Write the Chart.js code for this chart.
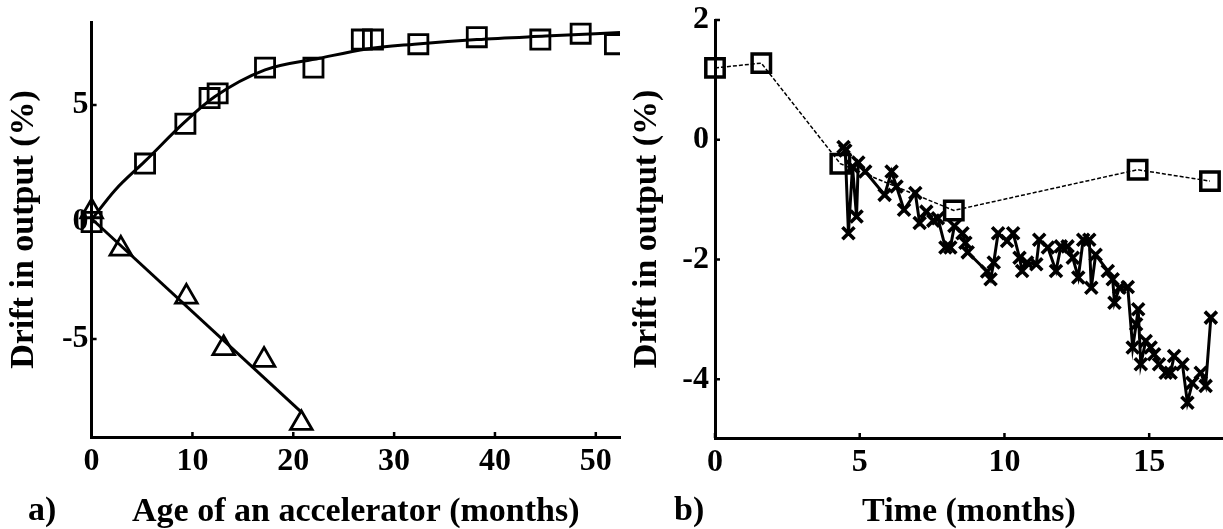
<!DOCTYPE html>
<html>
<head>
<meta charset="utf-8">
<title>Drift in output</title>
<script src="https://cdn.jsdelivr.net/npm/chart.js@4.4.1/dist/chart.umd.min.js"></script>
<style>
  html, body { margin: 0; padding: 0; background: #fff; }
  body { width: 1223px; height: 529px; position: relative; overflow: hidden; }
  canvas { position: absolute; top: 0; }
  #chartA { left: 0; }
  #chartB { left: 625px; }
  .tag {
    position: absolute; top: 492px; font: bold 34px "Liberation Serif", "Times New Roman", serif;
    line-height: 34px; color: #000;
  }
</style>
</head>
<body>
<canvas id="chartA" width="640" height="529"></canvas>
<canvas id="chartB" width="598" height="529"></canvas>
<div class="tag" style="left:28px">a)</div>
<div class="tag" style="left:674px">b)</div>

<script>
// panel a: age of an accelerator (months) vs drift (%)
const ageSquares = [0, 5.3, 9.3, 11.7, 12.5, 17.2, 22.0, 26.8, 27.9, 32.4, 38.2, 44.5, 48.5, 51.9];
const driftSquares = [0, 2.5, 4.2, 5.3, 5.5, 6.6, 6.6, 7.8, 7.8, 7.6, 7.9, 7.8, 8.05, 7.6];
const ageSquareFit = [0, 2.3, 5.3, 9.3, 12.2, 17.2, 22.6, 27.3, 32, 38.2, 45, 52.4];
const driftSquareFit = [0.1, 1.35, 2.6, 4.3, 5.35, 6.5, 7.0, 7.4, 7.6, 7.8, 7.95, 8.1];
const ageTriangles = [0, 2.9, 9.4, 13.1, 17.1, 20.8];
const driftTriangles = [0.45, -1.15, -3.2, -5.4, -5.9, -8.6];
const ageTriangleFit = [0, 20.8];
const driftTriangleFit = [0.14, -8.13];
const xTicksA = [0, 10, 20, 30, 40, 50];
const yTicksA = [-5, 0, 5];

// panel b: time (months) vs drift (%)
const timeSquares = [0, 1.6, 4.33, 8.25, 14.6, 17.1];
const driftSquaresB = [1.2, 1.28, -0.4, -1.18, -0.5, -0.69];
const timeCross = [4.44, 4.5, 4.61, 4.75, 4.89, 4.95, 5.19, 5.86, 6.1, 6.27, 6.53, 6.92, 7.07, 7.3,
  7.54, 7.7, 7.96, 8.13, 8.27, 8.55, 8.65, 8.73, 9.4, 9.52, 9.63, 9.78, 10.09, 10.3, 10.52,
  10.61, 10.78, 11.1, 11.2, 11.5, 11.78, 11.95, 12.18, 12.36, 12.55, 12.72, 12.93, 13.0, 13.15,
  13.57, 13.74, 13.8, 13.97, 14.26, 14.43, 14.55, 14.62, 14.71, 14.88, 15.05, 15.17, 15.34, 15.57,
  15.74, 15.86, 16.15, 16.32, 16.49, 16.78, 16.95, 17.13];
const driftCross = [-0.12, -0.18, -1.56, -0.45, -1.28, -0.38, -0.53, -0.92, -0.53, -0.78, -1.17, -0.89, -1.39, -1.2,
  -1.35, -1.31, -1.8, -1.8, -1.44, -1.56, -1.72, -1.88, -2.2, -2.33, -2.05, -1.56, -1.69, -1.56, -1.97,
  -2.19, -2.05, -2.08, -1.67, -1.8, -2.19, -1.78, -1.78, -1.97, -2.3, -1.67, -1.67, -2.47, -1.92,
  -2.19, -2.33, -2.72, -2.47, -2.46, -3.47, -3.08, -2.83, -3.75, -3.36, -3.47, -3.58, -3.75, -3.89,
  -3.89, -3.61, -3.75, -4.39, -4.06, -3.89, -4.11, -2.97];
const xTicksB = [0, 5, 10, 15];
const yTicksB = [-4, -2, 0, 2];

const FONT = '"Liberation Serif", "Times New Roman", serif';
const pts = (xs, ys) => xs.map((x, i) => ({ x, y: ys[i] }));

// small tick marks pointing into the plot
const innerTicks = {
  id: 'innerTicks',
  afterDraw(chart) {
    const { ctx, chartArea, scales } = chart;
    ctx.save();
    ctx.strokeStyle = '#000';
    ctx.lineWidth = 2.5;
    ctx.beginPath();
    scales.x.ticks.forEach(t => {
      const px = scales.x.getPixelForValue(t.value);
      ctx.moveTo(px, chartArea.bottom);
      ctx.lineTo(px, chartArea.bottom - 5);
    });
    scales.y.ticks.forEach(t => {
      const py = scales.y.getPixelForValue(t.value);
      ctx.moveTo(chartArea.left, py);
      ctx.lineTo(chartArea.left + 5, py);
    });
    ctx.stroke();
    ctx.restore();
  }
};

function axes(o) {
  const tickFont = { family: FONT, size: 32, weight: 'bold' };
  const titleFont = { family: FONT, size: 34, weight: 'bold', lineHeight: 1 };
  return {
    x: {
      type: 'linear', min: o.xMin, max: o.xMax,
      afterBuildTicks: s => { s.ticks = o.xTicks.map(v => ({ value: v })); },
      afterFit: s => { s.height = o.xHeight; s.paddingLeft = 0; s.paddingRight = 0; },
      grid: { display: true, drawOnChartArea: false, drawTicks: false },
      border: { display: true, color: '#000', width: 3 },
      ticks: { color: '#000', font: tickFont, padding: 6, maxRotation: 0 },
      title: { display: true, text: o.xTitle, color: '#000', font: titleFont, padding: { top: 0, bottom: 0 } }
    },
    y: {
      type: 'linear', min: o.yMin, max: o.yMax,
      afterBuildTicks: s => { s.ticks = o.yTicks.map(v => ({ value: v })); },
      afterFit: s => { s.width = o.yWidth; s.paddingTop = 0; s.paddingBottom = 0; },
      grid: { display: true, drawOnChartArea: false, drawTicks: false },
      border: { display: true, color: '#000', width: 3 },
      ticks: { color: '#000', font: tickFont, padding: o.yPad },
      title: { display: true, text: 'Drift in output (%)', color: '#000', font: titleFont, padding: { top: o.titlePad, bottom: 0 } }
    }
  };
}

const common = {
  responsive: false,
  animation: false,
  events: [],
  plugins: { legend: { display: false }, tooltip: { enabled: false } }
};

new Chart(document.getElementById('chartA'), {
  type: 'scatter',
  data: {
    datasets: [
      {
        data: pts(ageSquareFit, driftSquareFit), showLine: true, cubicInterpolationMode: 'monotone',
        borderColor: '#000', borderWidth: 3, pointRadius: 0, clip: false
      },
      {
        data: pts(ageTriangleFit, driftTriangleFit), showLine: true,
        borderColor: '#000', borderWidth: 3, pointRadius: 0, clip: false
      },
      {
        data: pts(ageSquares, driftSquares), pointStyle: 'rect', pointRadius: 13.5,
        borderColor: '#000', backgroundColor: 'rgba(0,0,0,0)', borderWidth: 2.8,
        clip: { left: false, top: false, right: 0, bottom: false }
      },
      {
        data: pts(ageTriangles, driftTriangles), pointStyle: 'triangle', pointRadius: 12.5,
        borderColor: '#000', backgroundColor: 'rgba(0,0,0,0)', borderWidth: 2.8, clip: false
      }
    ]
  },
  options: Object.assign({}, common, {
    layout: { autoPadding: false, padding: { left: 0, right: 20, top: 22, bottom: 0 } },
    scales: axes({
      xMin: 0, xMax: 52.4, yMin: -9.19, yMax: 8.55, xTicks: xTicksA, yTicks: yTicksA,
      xHeight: 92, yWidth: 91.6, yPad: 3, titlePad: 7.5, xTitle: 'Age of an accelerator (months)'
    })
  }),
  plugins: [innerTicks]
});

new Chart(document.getElementById('chartB'), {
  type: 'scatter',
  data: {
    datasets: [
      {
        data: pts(timeSquares, driftSquaresB), showLine: true,
        borderColor: '#000', borderWidth: 1.5, borderDash: [4, 2],
        pointStyle: 'rect', pointRadius: 13, pointBorderWidth: 3.5,
        backgroundColor: 'rgba(0,0,0,0)', clip: false
      },
      {
        data: pts(timeCross, driftCross), showLine: true,
        borderColor: '#000', borderWidth: 3,
        pointStyle: 'crossRot', pointRadius: 8.5, pointBorderWidth: 3.6, clip: false
      }
    ]
  },
  options: Object.assign({}, common, {
    layout: { autoPadding: false, padding: { left: 0, right: 0, top: 20, bottom: 0 } },
    scales: axes({
      xMin: 0, xMax: 17.55, yMin: -4.98, yMax: 2, xTicks: xTicksB, yTicks: yTicksB,
      xHeight: 91, yWidth: 90, yPad: 6, titlePad: 5.5, xTitle: 'Time (months)'
    })
  }),
  plugins: [innerTicks]
});
</script>
</body>
</html>
